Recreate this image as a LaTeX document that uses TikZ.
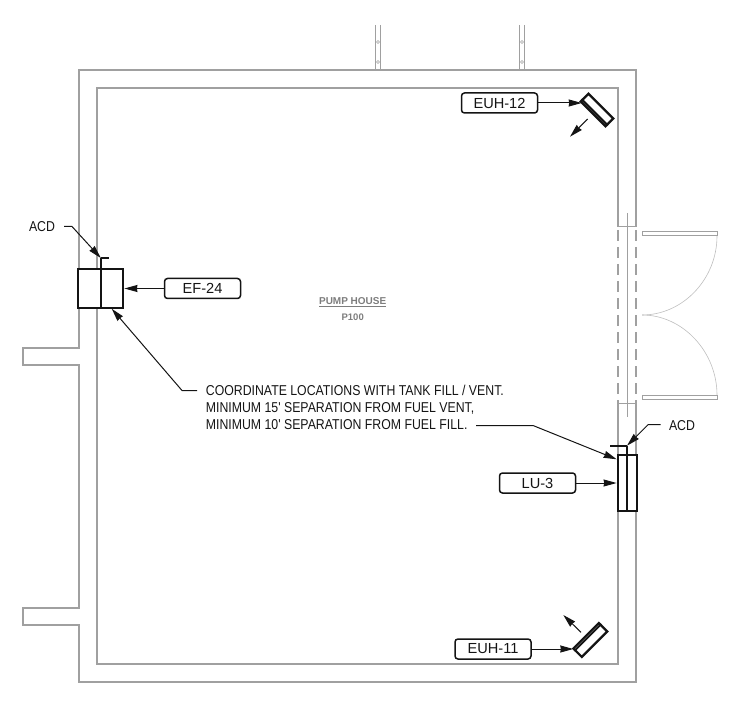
\documentclass[tikz,border=0pt]{standalone}
\usepackage{fontspec}
\setmainfont{Liberation Sans}
\newfontfamily\notefont[FakeStretch=0.86]{Liberation Sans}
\usetikzlibrary{arrows.meta,calc}
\definecolor{wall}{RGB}{160,160,160}
\definecolor{swing}{RGB}{190,190,190}
\definecolor{ink}{RGB}{20,20,20}
\definecolor{roomtext}{RGB}{125,125,125}
\tikzset{
  wallline/.style={wall, line width=1.5pt},
  tag/.style={draw=ink, line width=1.5pt, rounded corners=3pt, minimum width=76pt, minimum height=20pt, inner sep=0pt, text=ink, font=\fontsize{14.6}{16}\selectfont},
  unitbox/.style={draw=ink, line width=2.2pt, inner sep=0pt, fill=white},
  leader/.style={ink, line width=1pt, -{Stealth[length=13pt,width=7pt,inset=0.5pt]}},
  damper/.style={ink, line width=1.7pt},
  notetext/.style={text=ink, inner sep=0pt, font=\notefont\fontsize{14.3}{17.3}\selectfont},
}

\begin{document}
\begin{tikzpicture}[x=1pt, y=-1pt]
  \useasboundingbox (0,0) rectangle (741,708);

  % Outer wall
  \draw[wallline, line join=miter] (636,227) -- (636,70) -- (79,70) -- (79,348) -- (23,348) -- (23,365) -- (79,365)
    -- (79,608) -- (23,608) -- (23,625) -- (79,625) -- (79,682) -- (636,682) -- (636,403);
  % Inner wall
  \draw[wallline] (618,227) -- (618,88) -- (97,88) -- (97,664) -- (618,664) -- (618,403);
  \draw[wall, line width=1pt] (618,227) -- (636,227);
  \draw[wall, line width=1pt] (618,403) -- (636,403);

  % Door opening
  \draw[wall, line width=1pt] (627,213) -- (627,417);
  \draw[wall, line width=1.2pt, dashed, dash pattern=on 11pt off 6pt] (618,230) -- (618,403);
  \draw[wall, line width=1.2pt, dashed, dash pattern=on 11pt off 6pt] (636,230) -- (636,403);
  % Door leaves
  \draw[wall, line width=1pt] (642,232) rectangle (717,236);
  \draw[wall, line width=1pt] (642,395) rectangle (717,399);
  \draw[swing, line width=0.6pt] (717,236) .. controls (717,279) and (683,315) .. (642,315);
  \draw[swing, line width=0.6pt] (717,395) .. controls (717,352) and (683,315) .. (642,315);

  % Louvers on top wall
  \foreach \lx in {375.5,519.5} {
    \draw[wall, line width=1.2pt] (\lx,25) -- (\lx,70);
    \draw[wall, line width=1.2pt] (\lx+5,25) -- (\lx+5,70);
    \draw[wall, line width=0.6pt] (\lx+2.5,42) circle (1.5pt);
    \draw[wall, line width=0.6pt] (\lx+2.5,62) circle (1.5pt);
  }

  % Room name
  \node[text=roomtext, inner sep=0pt, font=\bfseries\fontsize{10}{11}\selectfont] (room) at (352.7,302) {\underline{PUMP HOUSE}};
  \node[text=roomtext, inner sep=0pt, font=\bfseries\fontsize{9.5}{11}\selectfont] (roomnum) at (352.7,317.3) {P100};

  % EF-24
  \node[unitbox, minimum width=45pt, minimum height=38.5pt] (efbox) at (100.8,288.5) {};
  \coordinate (efdamper) at (100.8,258);
  \draw[damper] (efdamper) -- (efbox.south -| efdamper);
  \draw[damper] (efdamper) -- ++(8,0);
  \node[tag] (eftag) at (202.5,288.5) {EF-24};
  \draw[leader] (eftag.west) -- (efbox.east);
  \node[text=ink, inner sep=0pt, font=\notefont\fontsize{14.3}{15}\selectfont] (acdleft) at (42,227) {ACD};
  \coordinate (acdleftbend) at (72,226.5);
  \draw[leader] (64,226.5) -- (acdleftbend) -- (efdamper);

  % Note
  \node[notetext, anchor=north west, align=left] (note) at (205.7,384.5) {COORDINATE LOCATIONS WITH TANK FILL / VENT.\\MINIMUM 15' SEPARATION FROM FUEL VENT,\\MINIMUM 10' SEPARATION FROM FUEL FILL.};
  \coordinate (notestart) at (197,390.5);
  \coordinate (notebend) at (182,390.5);
  \coordinate (notetip) at (111.7,308.7);
  \draw[leader] (notestart) -- (notebend) -- (notetip);

  % LU-3
  \node[unitbox, minimum width=19pt, minimum height=55.5pt] (lubox) at (627.2,483) {};
  \coordinate (ludamper) at (627,445.7);
  \draw[damper] (ludamper) -- (lubox.south -| ludamper);
  \draw[damper] (ludamper) -- ++(-17,0);
  \node[tag] (lutag) at (537.5,483) {LU-3};
  \draw[leader] (lutag.east) -- (lubox.west);
  \node[text=ink, inner sep=0pt, font=\notefont\fontsize{14.3}{15}\selectfont] (acdright) at (682,425.7) {ACD};
  \coordinate (acdrightbend) at (648,424.7);
  \draw[leader] (660.7,424.7) -- (acdrightbend) -- (ludamper);
  \coordinate (lunotestart) at (476,425.5);
  \coordinate (lunotebend) at (533,425.5);
  \coordinate (lunotetip) at (616.7,459.3);
  \draw[leader] (lunotestart) -- (lunotebend) -- (lunotetip);

  % EUH-12
  \node[unitbox, rotate=-45, minimum width=35pt, minimum height=11pt] (euh12) at (597,110) {};
  \draw[ink, line width=2pt] ($(euh12.south west)!0.25!(euh12.north west)$) -- ($(euh12.south east)!0.25!(euh12.north east)$);
  \node[tag] (euh12tag) at (499.5,103) {EUH-12};
  \draw[leader] (euh12tag.east) -- (581.7,103);
  \coordinate (euh12air) at (587.7,119);
  \coordinate (euh12tip) at (570,136.7);
  \draw[leader] (euh12air) -- (euh12tip);

  % EUH-11
  \node[unitbox, rotate=45, minimum width=36pt, minimum height=12pt] (euh11) at (590.3,640) {};
  \draw[ink, line width=2pt] ($(euh11.north west)!0.25!(euh11.south west)$) -- ($(euh11.north east)!0.25!(euh11.south east)$);
  \node[tag] (euh11tag) at (493,649) {EUH-11};
  \draw[leader] (euh11tag.east) -- (573.3,649);
  \coordinate (euh11air) at (581,632.3);
  \coordinate (euh11tip) at (563.3,615);
  \draw[leader] (euh11air) -- (euh11tip);

\end{tikzpicture}
\end{document}
